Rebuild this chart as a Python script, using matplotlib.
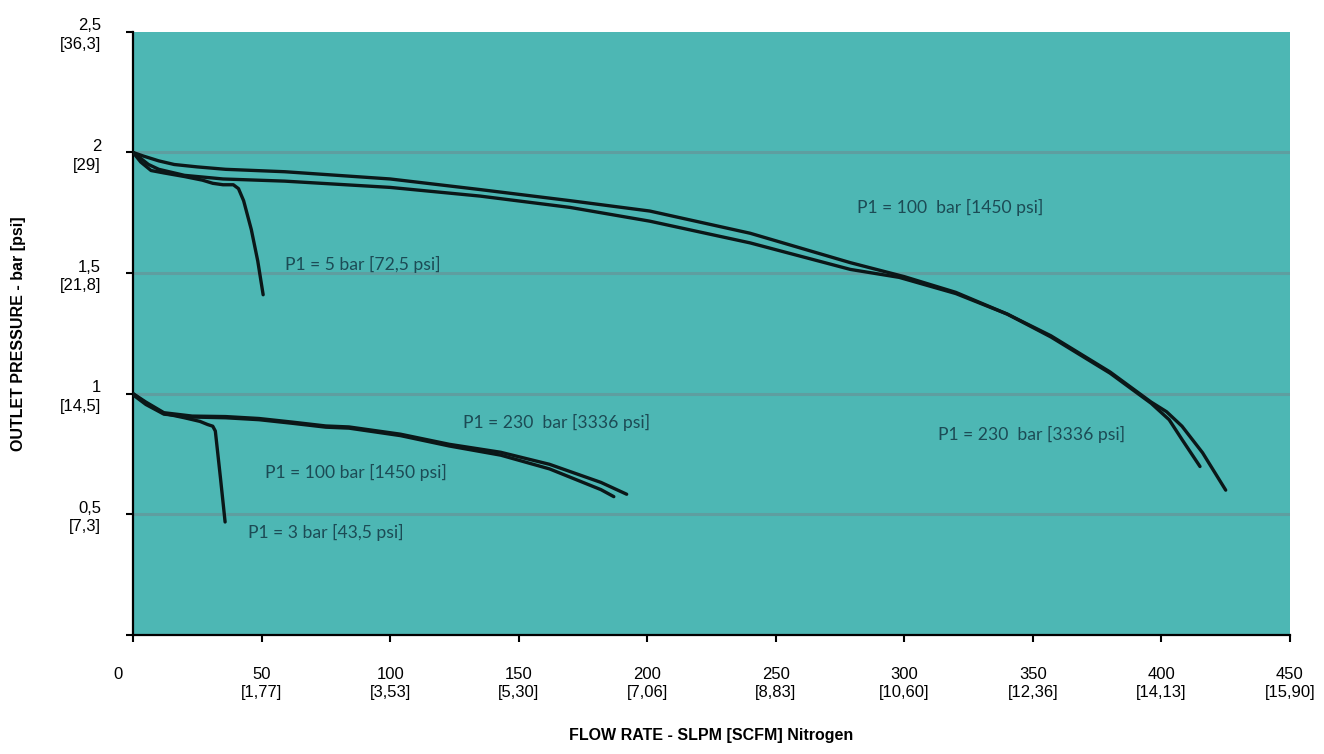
import matplotlib
matplotlib.use("Agg")
import matplotlib.pyplot as plt
import matplotlib.transforms as mtransforms

# Flow curves, outlet pressure (bar) against flow (SLPM nitrogen)
# upper family, inlet 100 / 230 bar
hp_a_flow = [0, 4, 10, 16, 25, 36, 59, 100, 135, 170, 201, 240, 279, 300, 320,
             340, 357, 380, 396, 402, 408, 416, 425]
hp_a_pres = [2.00, 1.985, 1.965, 1.95, 1.94, 1.93, 1.92, 1.89, 1.846, 1.80, 1.757,
             1.665, 1.543, 1.485, 1.42, 1.33, 1.24, 1.09, 0.965, 0.925, 0.865, 0.755, 0.60]
hp_b_flow = [0, 3, 6, 10, 20, 35, 59, 100, 135, 170, 201, 240, 279, 298, 320,
             340, 357, 380, 396, 403, 408, 415]
hp_b_pres = [2.00, 1.975, 1.95, 1.93, 1.905, 1.89, 1.881, 1.855, 1.819, 1.772, 1.715,
             1.625, 1.515, 1.482, 1.415, 1.33, 1.235, 1.085, 0.96, 0.892, 0.81, 0.698]
# upper family, inlet 5 bar
p5_flow = [0, 3, 7, 12, 20, 27, 31, 35, 39, 41, 43, 46, 48.5, 50.6]
p5_pres = [2.00, 1.96, 1.925, 1.915, 1.90, 1.885, 1.872, 1.866, 1.866, 1.85, 1.80,
           1.68, 1.55, 1.41]

# lower family, inlet 230 / 100 bar
lp_a_flow = [0, 5, 12, 23, 36, 49, 62, 75, 84, 104, 123, 143, 162, 182, 192]
lp_a_pres = [1.00, 0.965, 0.921, 0.907, 0.905, 0.897, 0.882, 0.866, 0.862, 0.832,
             0.79, 0.757, 0.707, 0.632, 0.583]
lp_b_flow = [0, 5, 12, 23, 36, 49, 62, 75, 84, 104, 123, 143, 162, 182, 187]
lp_b_pres = [0.995, 0.955, 0.915, 0.903, 0.90, 0.892, 0.877, 0.861, 0.857, 0.826,
             0.783, 0.745, 0.688, 0.602, 0.573]
# lower family, inlet 3 bar
p3_flow = [0, 5, 12, 20, 26, 29, 31, 32, 34, 35.8]
p3_pres = [1.00, 0.96, 0.918, 0.90, 0.885, 0.872, 0.865, 0.845, 0.65, 0.468]

curves = [(hp_a_flow, hp_a_pres), (hp_b_flow, hp_b_pres), (p5_flow, p5_pres),
          (lp_a_flow, lp_a_pres), (lp_b_flow, lp_b_pres), (p3_flow, p3_pres)]

# curve annotations: text, flow, pressure
labels = ["P1 = 100  bar [1450 psi]", "P1 = 5 bar [72,5 psi]",
          "P1 = 230  bar [3336 psi]", "P1 = 100 bar [1450 psi]",
          "P1 = 3 bar [43,5 psi]", "P1 = 230  bar [3336 psi]"]
label_x = [281.6, 59.1, 128.4, 51.3, 44.7, 313.1]
label_y = [1.772, 1.535, 0.88, 0.672, 0.423, 0.83]

x_ticks = [0, 50, 100, 150, 200, 250, 300, 350, 400, 450]
x_scfm = ["", "1,77", "3,53", "5,30", "7,06", "8,83", "10,60", "12,36", "14,13", "15,90"]
y_ticks = [0, 0.5, 1, 1.5, 2, 2.5]
y_bar = ["", "0,5", "1", "1,5", "2", "2,5"]
y_psi = ["", "7,3", "14,5", "21,8", "29", "36,3"]

fig = plt.figure(figsize=(13.24, 7.54), dpi=100)
ax = fig.add_axes([0.1005, 0.158, 0.8738, 0.7998])
ax.set_facecolor("#4db7b4")

for yv in y_ticks[1:-1]:
    ax.axhline(yv, color="#5e9ea0", lw=2.2, zorder=1)

for fx, fy in curves:
    ax.plot(fx, fy, color="#0b1718", lw=2.4, solid_capstyle="round",
            solid_joinstyle="round", zorder=3)

for txt, lx, ly in zip(labels, label_x, label_y):
    ax.text(lx, ly, txt, fontsize=12.6, family="Lato", color="#1c4b55",
            ha="left", va="center", zorder=4)

ax.set_xlim(0, 450)
ax.set_ylim(0, 2.5)

ax.set_xticks(x_ticks)
ax.set_xticklabels([f"{v}\n[{s}]" if s else f"{v}" for v, s in zip(x_ticks, x_scfm)],
                   family="Liberation Sans", fontsize=12, linespacing=1.3)
ax.set_yticks(y_ticks)
ax.set_yticklabels([f"{b}\n[{p}]" if b else "" for b, p in zip(y_bar, y_psi)],
                   family="Liberation Sans", fontsize=12, linespacing=1.3)
ax.tick_params(direction="out", length=5, width=1.5, pad=18, colors="black")

# the zero label sits left of its tick
shift = mtransforms.ScaledTranslation(-15 / 100, 0, fig.dpi_scale_trans)
zero = ax.get_xticklabels()[0]
zero.set_transform(zero.get_transform() + shift)

for side in ["top", "right"]:
    ax.spines[side].set_visible(False)
for side in ["left", "bottom"]:
    ax.spines[side].set_linewidth(1.6)
    ax.spines[side].set_color("black")

ax.set_xlabel("FLOW RATE - SLPM [SCFM] Nitrogen", family="Liberation Sans",
              fontsize=11.5, fontweight="bold", labelpad=20)
ax.set_ylabel("OUTLET PRESSURE - bar [psi]", family="Liberation Sans",
              fontsize=11.5, fontweight="bold", labelpad=24)

fig.savefig("out.png", dpi=100)
